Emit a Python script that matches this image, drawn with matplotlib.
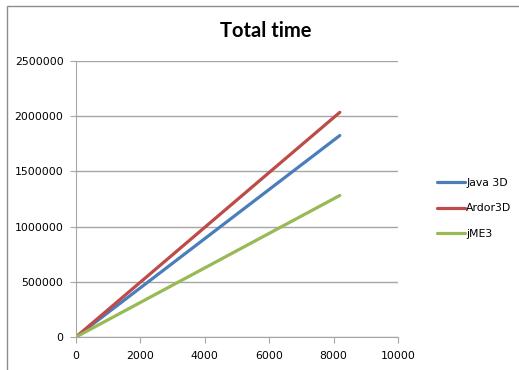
import matplotlib.pyplot as plt
from matplotlib.patches import Rectangle
from matplotlib.ticker import FuncFormatter

# data
x = [0, 8192]
java3d = [0, 1825000]
ardor3d = [0, 2035000]
jme3 = [0, 1282000]

series = [("Java 3D", java3d, "#4a7ebb"),
          ("Ardor3D", ardor3d, "#be4b48"),
          ("jME3", jme3, "#98b954")]

fig = plt.figure(figsize=(5.19, 3.70), dpi=100)
ax = fig.add_axes([0.1464, 0.0892, 0.6205, 0.7459])

for name, vals, col in series:
    ax.plot(x, vals, color=col, lw=2.3, label=name, solid_capstyle="round")

ax.set_xlim(0, 10000)
ax.set_ylim(0, 2500000)
ax.set_xticks(range(0, 10001, 2000))
ax.set_yticks(range(0, 2500001, 500000))
ax.yaxis.set_major_formatter(FuncFormatter(lambda v, p: f"{int(v)}"))
ax.yaxis.grid(True, color="#a6a6a6", lw=1)
ax.set_axisbelow(True)
for s in ("top", "right"):
    ax.spines[s].set_visible(False)
for s in ("left", "bottom"):
    ax.spines[s].set_color("#a6a6a6")
ax.tick_params(colors="#a6a6a6", labelcolor="black", labelsize=7.8, length=4)
ax.tick_params(axis="y", pad=5)
ax.tick_params(axis="x", pad=6)

fig.text(0.513, 0.917, "Total time", ha="center", va="center",
         fontsize=14.5, fontweight="bold", family="Lato")

leg = fig.legend(loc="center left", bbox_to_anchor=(0.823, 0.437), frameon=False,
                 fontsize=7.8, handlelength=2.6, handletextpad=0.1, labelspacing=1.45)

fig.patches.append(Rectangle((7 / 519, -0.1), 1.2, 1 - 6 / 370 + 0.1,
                             transform=fig.transFigure, fill=False,
                             edgecolor="#8c8c8c", lw=1))

fig.savefig("out.png", dpi=100)
